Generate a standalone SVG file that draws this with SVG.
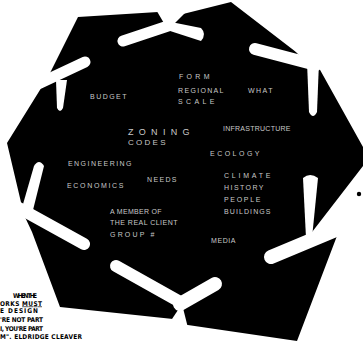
<svg xmlns="http://www.w3.org/2000/svg" width="363" height="345" viewBox="0 0 363 345">
<style>
.ink{fill:#000}
.cut{fill:#fff;stroke:none}
.bar{stroke:#fff;fill:none}
.t{fill:#c8c8c8;font-family:"Liberation Sans",Arial,sans-serif;font-size:7px;letter-spacing:0.5px}
.q{fill:#000;font-family:"DejaVu Sans Condensed","DejaVu Sans",sans-serif;font-weight:bold;font-size:6.5px}
</style>
<rect width="363" height="345" fill="#fff"/>
<g id="shape">
<polygon class="ink" points="78,17 158,12 183,14 231,2 296,52 319,68 363,147 363,166 309,236 340,228 297,341 181,324 173,319 60,307 32,232 24,215 7,143 48,77"/>
<circle class="ink" cx="359" cy="194" r="2.2"/>
</g>
<g id="connectors">
<line class="bar" x1="36" y1="85" x2="85" y2="62" stroke-width="11" stroke-linecap="round"/>
<path class="cut" d="M56,80 L67,80 L63,108 Q60,114 57,108 Z"/>
<polygon class="cut" points="155,8 186,12 168,30"/>
<line class="bar" x1="168" y1="26" x2="123" y2="41" stroke-width="11" stroke-linecap="round"/>
<path class="cut" d="M166,21 L201,28 Q207,34 201,41 L167,30 Z"/>
<polygon class="cut" points="292,47 326,60 313,72"/>
<line class="bar" x1="316" y1="65" x2="255" y2="49" stroke-width="12" stroke-linecap="round"/>
<path class="cut" d="M307,62 L319,62 L317,112 Q313,120 309,112 Z"/>
<path class="cut" d="M303,178 Q310,172 318,178 L312,238 L306,238 Z"/>
<line class="bar" x1="350" y1="224" x2="271" y2="257" stroke-width="14" stroke-linecap="round"/>
<polygon class="cut" points="170,322 182,304 188,328"/>
<line class="bar" x1="116" y1="266" x2="182" y2="303" stroke-width="12" stroke-linecap="round"/>
<line class="bar" x1="180" y1="304" x2="215" y2="284" stroke-width="14" stroke-linecap="round"/>
<path class="cut" d="M34,166 Q39,158 44,166 L31,218 L19,218 Z"/>
<line class="bar" x1="8" y1="202" x2="84" y2="244" stroke-width="12" stroke-linecap="round"/>
</g>
<g id="labels">
<text class="t" x="90" y="99" textLength="37">BUDGET</text>
<text class="t" x="179" y="79" textLength="31">FORM</text>
<text class="t" x="178" y="93" textLength="46">REGIONAL</text>
<text class="t" x="178" y="104" textLength="37">SCALE</text>
<text class="t" x="248" y="93" textLength="25">WHAT</text>
<text class="t" x="128" y="135" style="font-size:9px" textLength="62">ZONING</text>
<text class="t" x="128" y="145" style="font-size:8px" textLength="38">CODES</text>
<text class="t" x="223" y="131" textLength="68">INFRASTRUCTURE</text>
<text class="t" x="210" y="156" textLength="50">ECOLOGY</text>
<text class="t" x="68" y="166" textLength="64">ENGINEERING</text>
<text class="t" x="67" y="188" textLength="57">ECONOMICS</text>
<text class="t" x="147" y="182" textLength="30">NEEDS</text>
<text class="t" x="110" y="214" textLength="52">A MEMBER OF</text>
<text class="t" x="110" y="225" textLength="68">THE REAL CLIENT</text>
<text class="t" x="110" y="237" textLength="45">GROUP #</text>
<text class="t" x="224" y="178" textLength="47">CLIMATE</text>
<text class="t" x="224" y="190" textLength="40">HISTORY</text>
<text class="t" x="224" y="202" textLength="37">PEOPLE</text>
<text class="t" x="224" y="214" textLength="47">BUILDINGS</text>
<text class="t" x="211" y="243" textLength="25">MEDIA</text>
</g>
<g id="quote">
<text class="q" x="13" y="298" textLength="24">WHEN THE</text>
<text class="q" x="0" y="305.5" textLength="42">ORKS <tspan text-decoration="underline">MUST</tspan></text>
<text class="q" x="0" y="313" textLength="38">E DESIGN</text>
<text class="q" x="0" y="322" textLength="43">'RE NOT PART</text>
<text class="q" x="0" y="330.5" textLength="43">I, YOU'RE PART</text>
<text class="q" x="0" y="339" textLength="82">M". ELDRIDGE CLEAVER</text>
</g>
</svg>
